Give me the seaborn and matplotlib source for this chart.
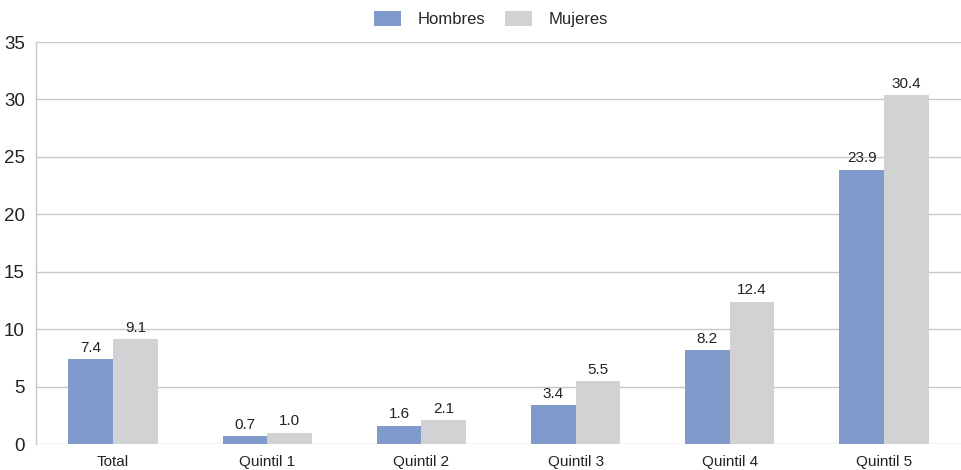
import pandas as pd
from matplotlib import pyplot as plt
import seaborn as sns

categories = ['Total', 'Quintil 1', 'Quintil 2', 'Quintil 3', 'Quintil 4', 'Quintil 5']
hombres = [7.4, 0.7, 1.6, 3.4, 8.2, 23.9]
mujeres = [9.1, 1.0, 2.1, 5.5, 12.4, 30.4]
y_ticks = [0, 5, 10, 15, 20, 25, 30, 35]

df = pd.DataFrame({
    'grupo': categories * 2,
    'valor': hombres + mujeres,
    'sexo': ['Hombres'] * len(categories) + ['Mujeres'] * len(categories),
})

sns.set_style('white')
plt.rcParams['font.family'] = ['Liberation Sans', 'DejaVu Sans']

fig = plt.figure(figsize=(9.61, 4.70), dpi=100)
ax = fig.add_axes([0.0375, 0.0553, 0.9625, 0.8553])

sns.barplot(data=df, x='grupo', y='valor', hue='sexo', order=categories,
            palette={'Hombres': '#7f9acb', 'Mujeres': '#d1d2d4'},
            width=0.58, saturation=1, linewidth=0, ax=ax, zorder=3)

for container in ax.containers:
    ax.bar_label(container, fmt='%.1f', padding=3, fontsize=11, color='#222222')

ax.set_ylim(0, 35)
ax.set_xlim(-0.5, 5.5)
ax.set_yticks(y_ticks)
ax.yaxis.grid(True, color='#c8c8c8', linewidth=1)
ax.set_axisbelow(True)
ax.set_xlabel('')
ax.set_ylabel('')
ax.tick_params(axis='y', labelsize=13.5, length=0, pad=8, colors='#222222')
ax.tick_params(axis='x', labelsize=11, length=0, pad=8, colors='#222222')
for side in ['top', 'right', 'bottom']:
    ax.spines[side].set_visible(False)
ax.spines['left'].set_color('#c8c8c8')
ax.spines['left'].set_linewidth(1)

ax.legend(loc='upper center', bbox_to_anchor=(0.492, 1.115), ncol=2, frameon=False,
          fontsize=12, handlelength=1.6, handleheight=1.0, columnspacing=1.2,
          handletextpad=1.0)

fig.savefig('out.png', dpi=100)
